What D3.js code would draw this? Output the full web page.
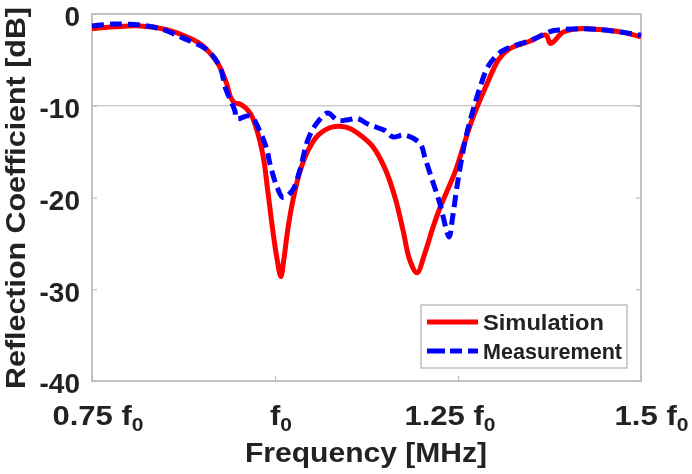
<!DOCTYPE html>
<html><head><meta charset="utf-8">
<script src="https://cdnjs.cloudflare.com/ajax/libs/d3/7.8.5/d3.min.js"></script>
<style>html,body{margin:0;background:#fff}svg{display:block}text{font-family:"Liberation Sans",Arial,sans-serif;font-weight:bold;fill:#222}</style>
</head><body><svg id="c" width="692" height="474"></svg>
<script>
const xTicks=[0.75,1,1.25,1.5];
const xTickNames=["0.75 f","f","1.25 f","1.5 f"];
const yTicks=[0,-10,-20,-30,-40];
const simFreq=[.75,.781,.816,.852,.88,.895,.907,.922,.934,.939,.945,.952,.966,.975,.984,.99,.997,1.003,1.008,1.012,1.018,1.025,1.034,1.045,1.059,1.079,1.1,1.113,1.133,1.15,1.164,1.175,1.184,1.194,1.205,1.216,1.225,1.246,1.257,1.269,1.287,1.306,1.32,1.347,1.37,1.376,1.381,1.393,1.415,1.443,1.475,1.5];
const simDb=[-1.6,-1.4,-1.3,-1.7,-2.5,-3.1,-3.9,-5.4,-7.6,-9,-9.7,-9.8,-10.8,-12.6,-15.6,-19.2,-23.6,-26.8,-28.6,-26.8,-23.2,-20.1,-17.2,-14.9,-13.2,-12.3,-12.4,-13,-14.4,-16.8,-20,-23.6,-26.8,-28.2,-26,-23.2,-21.2,-17.2,-14.5,-11.6,-8.1,-4.9,-3.8,-3,-2.3,-3.2,-3,-2,-1.6,-1.7,-2,-2.5];
const meaFreq=[.75,.779,.816,.843,.874,.907,.925,.932,.945,.948,.966,.98,.989,.993,1.003,1.011,1.024,1.034,1.045,1.057,1.072,1.086,1.102,1.113,1.127,1.15,1.161,1.177,1.198,1.205,1.214,1.225,1.238,1.242,1.25,1.26,1.268,1.278,1.292,1.309,1.329,1.352,1.37,1.381,1.415,1.443,1.475,1.5];
const meaDb=[-1.3,-1.1,-1.2,-1.6,-2.6,-3.9,-5.8,-8,-10.5,-11.4,-11.1,-12.9,-14.8,-16.3,-18.9,-20,-19.2,-17,-13.7,-11.9,-10.8,-11.6,-11.5,-11.4,-12,-12.7,-13.4,-13.2,-14.1,-15.7,-17.9,-20.6,-24.3,-22.5,-18.1,-13.7,-11.2,-8.5,-5.6,-4.1,-3.4,-2.8,-2.1,-1.8,-1.6,-1.7,-2,-2.3];
const legendNames=["Simulation","Measurement"];

const L=92,R=641,T=14,B=381;
const x=d3.scaleLinear().domain([.75,1.5]).range([L,R]);
const y=d3.scaleLinear().domain([0,-40]).range([T,B]);
const svg=d3.select("#c");
svg.append("defs").append("filter").attr("id","soft").attr("x","-5%").attr("y","-5%").attr("width","110%").attr("height","110%")
  .append("feGaussianBlur").attr("stdDeviation",0.7);
const g=svg.append("g").attr("filter","url(#soft)");
const frame="#bdbdbd";

g.append("rect").attr("x",L).attr("y",T).attr("width",R-L).attr("height",B-T)
  .attr("fill","none").attr("stroke",frame).attr("stroke-width",1.8);
g.append("line").attr("x1",L).attr("x2",R).attr("y1",y(-10)).attr("y2",y(-10)).attr("stroke","#b5b5b5").attr("stroke-width",1.1);

const labelDx=[5.5,5.5,-8.5,10], labelW=[91,22,91,74];
const ax=g.append("g").attr("transform",`translate(0,${B})`)
  .call(d3.axisBottom(x).tickValues(xTicks).tickSize(-5).tickPadding(0).tickFormat(""));
ax.select(".domain").remove();
ax.selectAll("line").attr("stroke",frame).attr("stroke-width",1.2);
ax.selectAll(".tick").each(function(d,i){
  const t=d3.select(this).append("text").attr("x",labelDx[i]).attr("y",44).attr("text-anchor","middle")
    .attr("font-size",28).attr("textLength",labelW[i]).attr("lengthAdjust","spacingAndGlyphs");
  t.append("tspan").text(xTickNames[i]);
  t.append("tspan").attr("font-size",19).attr("dy",6).text("0");
});
const ay=g.append("g").attr("transform",`translate(${L},0)`)
  .call(d3.axisLeft(y).tickValues(yTicks).tickSize(-5).tickPadding(0).tickFormat(d=>d));
ay.select(".domain").remove();
ay.selectAll("line").attr("stroke",frame).attr("stroke-width",1.2);
ay.selectAll("text").attr("font-size",28).attr("x",-12).attr("dy","0.42em").attr("fill","#222");
const ar=g.append("g").attr("transform",`translate(${R},0)`)
  .call(d3.axisRight(y).tickValues(yTicks).tickSize(-5).tickFormat(""));
ar.select(".domain").remove();
ar.selectAll("line").attr("stroke",frame).attr("stroke-width",1.2);

const line=d3.line().x(d=>x(d[0])).y(d=>y(d[1])).curve(d3.curveCatmullRom.alpha(0.5));
g.append("path").datum(d3.zip(simFreq,simDb)).attr("d",line).attr("fill","none")
  .attr("stroke","#ff0000").attr("stroke-width",5).attr("stroke-linejoin","round");
g.append("path").datum(d3.zip(meaFreq,meaDb)).attr("d",line).attr("fill","none")
  .attr("stroke","#0000ff").attr("stroke-width",5).attr("stroke-dasharray","12,6").attr("stroke-linejoin","round");

g.append("text").attr("x",366).attr("y",462).attr("text-anchor","middle").attr("font-size",28).attr("fill","#333")
  .attr("textLength",242).attr("lengthAdjust","spacingAndGlyphs").text("Frequency [MHz]");
g.append("text").attr("transform","translate(25,198) rotate(-90)").attr("text-anchor","middle").attr("font-size",28).attr("fill","#333")
  .attr("textLength",382).attr("lengthAdjust","spacingAndGlyphs").text("Reflection Coefficient [dB]");

g.append("rect").attr("x",421).attr("y",305).attr("width",206).attr("height",63).attr("fill","#fff").attr("stroke","#b0b0b0").attr("stroke-width",1.2);
const legendW=[121,139];
const leg=g.selectAll(".lg").data(legendNames).join("g").attr("class","lg").attr("transform",(d,i)=>`translate(0,${i?351:322})`);
leg.append("line").attr("x1",427).attr("x2",478).attr("y1",0).attr("y2",0)
  .attr("stroke",(d,i)=>i?"#0000ff":"#ff0000").attr("stroke-width",5).attr("stroke-dasharray",(d,i)=>i?"18,5,12,6,10":null);
leg.append("text").attr("x",483).attr("y",8).attr("font-size",22)
  .attr("textLength",(d,i)=>legendW[i]).attr("lengthAdjust","spacingAndGlyphs").text(d=>d);
</script></body></html>
